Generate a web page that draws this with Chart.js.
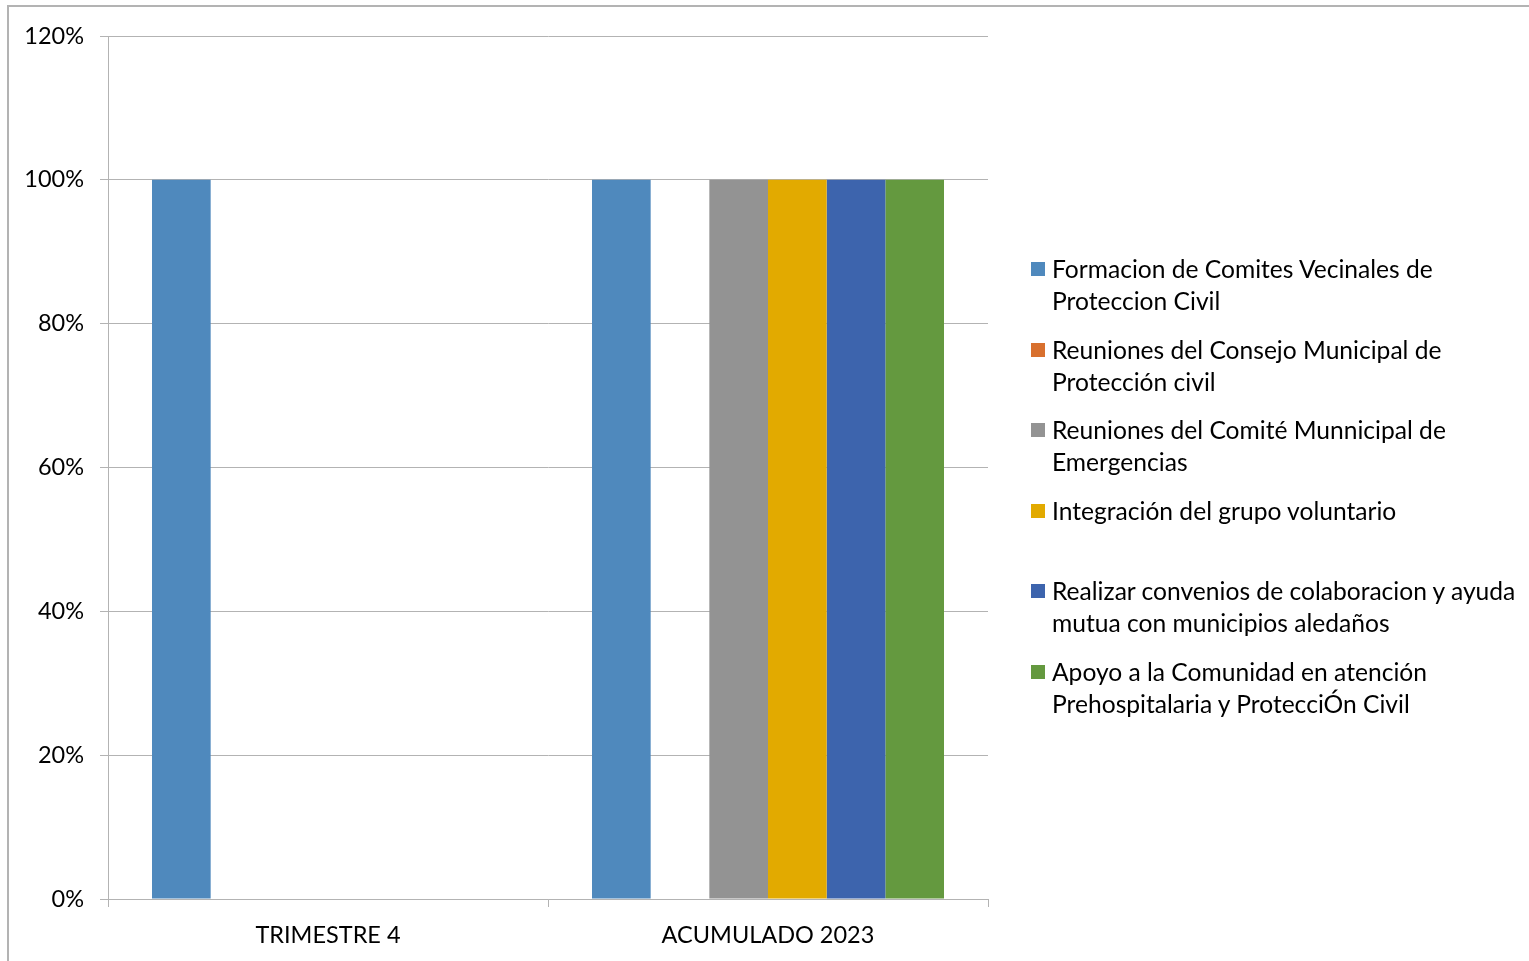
<!DOCTYPE html>
<html>
<head>
<meta charset="utf-8">
<script src="https://cdn.jsdelivr.net/npm/chart.js"></script>
<style>
  html, body { margin: 0; padding: 0; background: #fff; }
  #wrap { position: relative; width: 1529px; height: 961px; overflow: hidden; }
  #frame { position: absolute; left: 7px; top: 5px; width: 1540px; height: 980px; border: 2px solid #b3b3b3; box-sizing: border-box; }
  canvas { position: absolute; left: 0; top: 0; }
  .item { position: absolute; left: 1031px; font-family: Lato, "Open Sans", sans-serif; font-size: 24.6px; line-height: 32px; color: #000; }
  .item span.box { position: absolute; left: 0; top: 9px; width: 14px; height: 14px; }
  .item div.txt { margin-left: 21px; white-space: nowrap; }
</style>
</head>
<body>
<div id="wrap">
  <div id="frame"></div>
  <canvas id="chart" width="1529" height="961"></canvas>
  <div id="legend"></div>
</div>
<script>
const categories = ['TRIMESTRE 4', 'ACUMULADO 2023'];
const seriesNames = [
  'Formacion de Comites Vecinales de Proteccion Civil',
  'Reuniones del Consejo Municipal de Protección civil',
  'Reuniones del Comité Munnicipal de Emergencias',
  'Integración del grupo voluntario',
  'Realizar convenios de colaboracion y ayuda mutua con municipios aledaños',
  'Apoyo a la Comunidad en atención Prehospitalaria y ProtecciÓn Civil'
];
// legend line breaks as in the picture
const legendLines = [
  ['Formacion de Comites Vecinales de', 'Proteccion Civil'],
  ['Reuniones del Consejo Municipal de', 'Protección civil'],
  ['Reuniones del Comité Munnicipal de', 'Emergencias'],
  ['Integración del grupo voluntario'],
  ['Realizar convenios de colaboracion y ayuda', 'mutua con municipios aledaños'],
  ['Apoyo a la Comunidad en atención', 'Prehospitalaria y ProtecciÓn Civil']
];
const formacion = [100, 100];
const consejo = [0, 0];
const comite = [0, 100];
const voluntario = [0, 100];
const convenios = [0, 100];
const apoyo = [0, 100];
const seriesValues = [formacion, consejo, comite, voluntario, convenios, apoyo];
const colors = ['#4f89bd', '#d8702e', '#939393', '#e2aa00', '#3d64ad', '#64993f'];

const gridColor = '#b3b3b3';
const tickFont = { family: 'Lato, "Open Sans", sans-serif', size: 23.5 };

const ctx = document.getElementById('chart').getContext('2d');
new Chart(ctx, {
  type: 'bar',
  data: {
    labels: categories,
    datasets: seriesValues.map((vals, i) => ({
      label: seriesNames[i],
      data: vals,
      backgroundColor: colors[i],
      borderWidth: 0,
      categoryPercentage: 0.8,
      barPercentage: 1.0
    }))
  },
  options: {
    responsive: false,
    animation: false,
    layout: { padding: { left: 0, top: 36, right: 541, bottom: 0 } },
    plugins: { legend: { display: false }, tooltip: { enabled: false } },
    scales: {
      x: {
        grid: { drawOnChartArea: false, drawTicks: true, tickLength: 8, color: gridColor, offset: true },
        border: { display: true, color: gridColor, width: 1 },
        ticks: { color: '#000', font: tickFont, padding: 14 },
        afterFit: s => { s.height = 62; }
      },
      y: {
        min: 0, max: 120,
        grid: { color: gridColor, tickLength: 8 },
        border: { display: true, color: gridColor, width: 1 },
        ticks: { stepSize: 20, color: '#000', font: tickFont, padding: 16, callback: v => v + '%' },
        afterFit: s => { s.width = 108; }
      }
    }
  }
});

const legend = document.getElementById('legend');
legendLines.forEach((lines, i) => {
  const item = document.createElement('div');
  item.className = 'item';
  item.style.top = (253 + i * 80.5) + 'px';
  const box = document.createElement('span');
  box.className = 'box';
  box.style.background = colors[i];
  item.appendChild(box);
  const txt = document.createElement('div');
  txt.className = 'txt';
  txt.innerHTML = lines.join('<br>');
  item.appendChild(txt);
  legend.appendChild(item);
});
</script>
</body>
</html>
